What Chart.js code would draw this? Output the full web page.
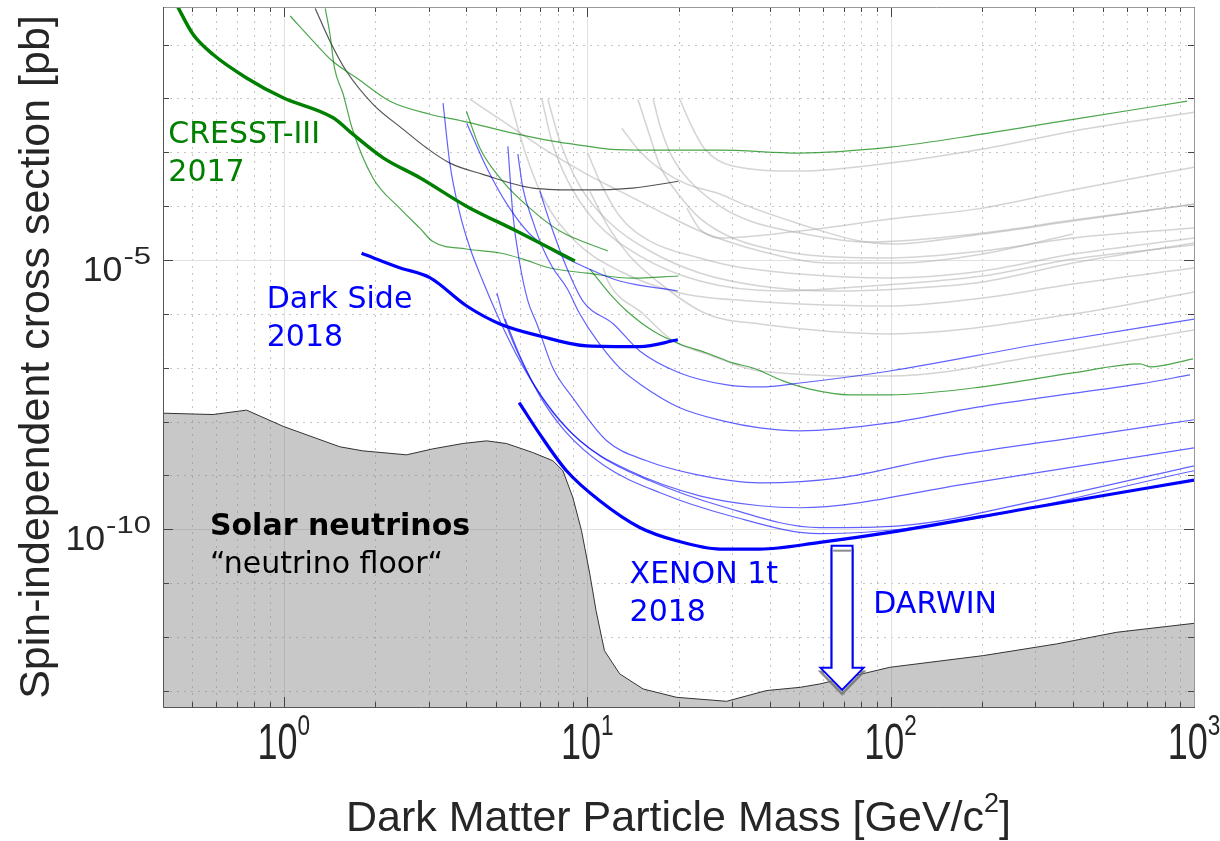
<!DOCTYPE html>
<html>
<head>
<meta charset="utf-8">
<script src="https://cdn.jsdelivr.net/npm/chart.js@4.4.1/dist/chart.umd.min.js"></script>
<style>
  html, body { margin: 0; padding: 0; background: #fff; }
  #wrap { width: 1220px; height: 841px; }
</style>
</head>
<body>
<div id="wrap"><canvas id="limits" width="1220" height="841"></canvas></div>
<script>
// WIMP mass [GeV/c^2] vs spin-independent cross section [pb]

const xRange = [0.4, 1000];
const yRange = [5e-14, 0.5];
const xMajor = [1, 10, 100, 1000];
const xMajorExp = ['0', '1', '2', '3'];
const yMajor = [1e-5, 1e-10];
const yMajorExp = ['-5', '-10'];

const neutrinoFloor = [[0.4,1.43e-8],[0.585,1.35e-8],[0.754,1.63e-8],[1.0,8.07e-9],[1.53,3.4e-9],[1.82,2.86e-9],[2.54,2.41e-9],
  [3.1,3.11e-9],[3.89,3.91e-9],[4.66,4.38e-9],[5.42,3.91e-9],[6.62,2.66e-9],[7.71,1.87e-9],[8.32,1.22e-9],[8.97,3.89e-10],
  [9.58,9.4e-11],[10.2,1.49e-11],[10.7,3.07e-12],[11.4,5.57e-13],[12.8,2.06e-13],[15.3,1.08e-13],[19.7,7.57e-14],
  [28.8,6.38e-14],[39.0,1.01e-13],[50.4,1.16e-13],[58.5,1.34e-13],[99.4,2.73e-13],[202,4.5e-13],[352,7.41e-13],
  [556,1.22e-12],[1000,1.79e-12]];

const cresst2017 = [[0.44,0.6],[0.503,0.154],[0.585,0.0655],[0.754,0.0241],[0.995,0.0103],[1.455,4.37e-3],[1.693,2.15e-3],
  [2.126,7.9e-4],[2.81,3.37e-4],[4.0,1.0e-4],[5.85,3.45e-5],[9.11,9.6e-6]];

const darkSide2018 = [[1.805,1.33e-5],[2.41,7.19e-6],[3.03,4.7e-6],[4.01,1.4e-6],[5.16,6.5e-7],[6.98,3.89e-7],
  [9.98,2.54e-7],[14.9,2.46e-7],[19.9,3.3e-7]];

const xenon1t2018 = [[5.97,2.25e-8],[6.98,5.83e-9],[8.55,1.22e-9],[11.0,3.38e-10],[14.9,1.08e-10],[19.7,6.12e-11],
  [27.4,4.29e-11],[37.1,4.29e-11],[58.5,5.69e-11],[99.4,8.73e-11],[295,2.54e-10],[1000,8.18e-10]];

// other cryogenic / low-mass results (green)
const greenA = [[1.05,0.34],[1.25,0.116],[1.45,0.049],[1.74,0.024],[2.24,8.9e-3],[3.03,5.1e-3],[3.89,3.8e-3],[5.69,2.27e-3],
  [7.71,1.61e-3],[10,1.3e-3],[11.7,1.15e-3],[16.5,1.1e-3],[27.4,1.1e-3],[50,9.7e-4],[100,1.25e-3],[200,2.18e-3],
  [400,4.1e-3],[950,8.9e-3]];
const greenB = [[1.37,0.47],[1.42,0.156],[1.47,0.0365],[1.57,0.012],[1.68,2.8e-3],[1.97,3.3e-4],[2.41,9.2e-5],[2.81,3.9e-5],
  [3.1,2.2e-5],[4.0,1.6e-5],[5.16,1.35e-5],[6.14,1.04e-5],[7.54,7.1e-6],[10,5.7e-6],[14.1,4.6e-6],[20,5.05e-6]];
const greenC = [[4.0,5.8e-3],[4.43,1.2e-3],[5.27,2.9e-4],[6.47,9.2e-5],[8.13,3.45e-5],[11.7,1.47e-5]];
const greenD = [[10.2,6.8e-6],[12.2,2.0e-6],[13.5,1.13e-6],[16.5,4.8e-7],[20.2,2.76e-7],[24.8,1.88e-7],[30.2,1.23e-7],
  [35.2,9.9e-8],[44.2,5.7e-8],[54.2,4.0e-8],[73.4,3.13e-8],[99.5,3.13e-8],[187,4.2e-8],[399,8.0e-8],[663,1.18e-7],
  [716,1.04e-7],[993,1.46e-7]];

const blackA = [[1.27,0.47],[1.42,0.116],[1.61,0.032],[1.97,7.8e-3],[2.47,2.7e-3],[2.96,1.2e-3],[3.53,6.3e-4],[4.53,3.9e-4],
  [6.62,2.17e-4],[9.68,2.0e-4],[14.1,2.17e-4],[20,2.9e-4]];

// liquid noble gas results (blue)
const blueA = [[4.01,3.48e-3],[4.67,5.1e-4],[5.44,1.09e-4],[6.47,3.04e-5],[7.71,1.47e-5],[9.98,7.1e-6],[12.8,4.07e-6],[19.9,2.66e-6]];
const blueB = [[6.98,1.91e-4],[7.71,3.45e-5],[8.57,7.1e-6],[9.68,1.73e-6],[12.2,6.5e-7],[14.9,2.05e-7],[20.2,8.0e-8],
  [28.9,4.8e-8],[37.1,4.4e-8],[50.2,5.2e-8],[99.5,8.7e-8],[311,2.76e-7],[1000,8.0e-7]];
const blueC = [[5.91,9.26e-4],[6.14,2.17e-4],[6.62,5.29e-5],[7.14,1.67e-5],[7.71,7.11e-6],[8.57,3.02e-6],[9.46,9.95e-7],
  [10.8,3.14e-7],[12.8,9.9e-8],[14.9,5.0e-8],[20.2,1.8e-8],[28,1.03e-8],[37.1,7.64e-9],[50.2,6.73e-9],[99.5,9.46e-9],
  [187,1.8e-8],[311,2.75e-8],[663,5.0e-8],[970,7.35e-8]];
const blueD = [[5.48,1.3e-3],[5.69,7.13e-5],[6.0,8.44e-6],[6.38,1.73e-6],[6.83,6.5e-7],[7.71,9.9e-8],[8.97,2.75e-8],
  [11.6,4.39e-9],[15.7,1.87e-9],[22.3,1.07e-9],[37.1,7.29e-10],[68.1,9.02e-10],[145,2.12e-9],[399,4.99e-9],[1000,1.08e-8]];
const blueE = [[3.35,8.2e-3],[3.53,6.04e-4],[3.81,7.13e-5],[4.11,1.67e-5],[4.53,4.07e-6],[5.16,7.38e-7],[6.0,1.34e-7],
  [7.25,2.42e-8],[9.46,4.39e-9],[13.8,1.22e-9],[23.5,4.18e-10],[37.1,2.73e-10],[50.2,2.51e-10],[178,6.98e-10],[1000,3.25e-9]];
const blueF = [[5.04,2.44e-6],[5.36,7.38e-7],[5.87,2.05e-7],[6.72,4.59e-8],[8.13,1.03e-8],[11.0,2.31e-9],[16.1,7.94e-10],
  [27.4,2.73e-10],[58.5,1.07e-10],[107,1.16e-10],[335,3.84e-10],[1000,1.51e-9]];
const blueG = [[5.36,8.04e-7],[6.0,1.66e-7],[6.98,3.0e-8],[8.44,6.73e-9],[11.4,1.51e-9],[17.4,4.75e-10],[29.5,1.78e-10],
  [58.5,8.26e-11],[157,1.32e-10],[1000,1.22e-9]];

// earlier results (light grey)
const greyCurves = [
  [[20.2,9.7e-3],[22.1,3.06e-3],[24.4,1.15e-3],[30.2,5.55e-4],[50.2,4.48e-4],[99.5,6.31e-4],[201,1.15e-3],[399,2.47e-3],[1000,5.57e-3]],
  [[21.3,9.2e-5],[23.5,3.76e-5],[27.4,2.56e-5],[50.2,3.45e-5],[99.5,5.77e-5],[201,9.2e-5],[381,1.91e-4],[1000,5.31e-4]],
  [[13.0,2.81e-3],[14.9,1.05e-3],[17.4,4.88e-4],[21.3,2.57e-4],[27.4,1.68e-4],[32.6,1.09e-4],[50.2,4.66e-5],[79.2,2.25e-5],
   [99.5,1.98e-5],[201,3.04e-5],[399,5.29e-5],[1000,1.09e-4]],
  [[16.5,9.7e-3],[17.4,3.06e-3],[19.0,8.5e-4],[21.8,2.92e-4],[27.4,1.0e-4],[34.4,5.29e-5],[50.2,3.17e-5],[83.5,2.16e-5],
   [201,3.17e-5],[399,5.52e-5],[1000,1.09e-4]],
  [[14.7,9.7e-3],[15.9,2.47e-3],[17.4,5.55e-4],[20.2,1.54e-4],[23.5,6.0e-5],[30.2,2.56e-5],[50.2,1.29e-5],[99.5,1.09e-5],
   [201,1.47e-5],[399,2.56e-5],[1000,3.92e-5]],
  [[10.05,9.7e-4],[11.0,2.92e-4],[12.8,6.5e-5],[16.1,2.25e-5],[23.5,1.09e-5],[30.2,7.75e-6],[50.2,5.5e-6],[99.5,4.64e-6],
   [201,6.25e-6],[399,1.29e-5],[1000,2.56e-5]],
  [[7.42,9.7e-3],[8.13,1.61e-3],[9.46,2.36e-4],[11.7,5.3e-5],[16.1,1.47e-5],[23.5,5.74e-6],[37.1,3.29e-6],[64.5,2.66e-6],
   [107,2.9e-6],[201,3.9e-6],[399,8.8e-6],[1000,2.07e-5]],
  [[7.09,9.7e-3],[7.65,1.61e-3],[8.64,2.92e-4],[10.6,5.3e-5],[14.9,1.19e-5],[23.5,4.07e-6],[43.2,2.66e-6],[85.5,3.29e-6],
   [201,5.05e-6],[399,1.04e-5],[1000,1.9e-5]],
  [[5.56,9.7e-3],[6.23,1.05e-3],[7.25,1.24e-4],[9.11,2.25e-5],[12.8,6.25e-6],[20.2,2.44e-6],[34.4,1.73e-6],[50.2,1.53e-6],
   [99.5,1.4e-6],[201,1.97e-6],[399,3.59e-6],[1000,7.11e-6]],
  [[4.11,9.7e-3],[5.27,3.8e-3],[7.14,1.2e-3],[10,3.9e-4],[12.8,1.9e-4],[16.5,9.2e-5],[23.5,3.45e-5],[37.1,1.47e-5],
   [63.1,8.8e-6],[107,8.8e-6],[201,1.29e-5],[399,3.04e-5]],
  [[10.2,1.91e-4],[11.7,4.27e-5],[13.8,1.19e-5],[17,4.07e-6],[24.8,9.95e-7],[37.1,6.5e-7],[99.5,4.24e-7],[399,9.95e-7],[1000,2.55e-6]],
  [[11.3,7.1e-6],[11.7,4.07e-6],[15.3,9.95e-7],[19.2,3.14e-7],[24.8,1.8e-7],[37.1,8.7e-8],[99.5,7.0e-8],[311,1.66e-7],[1000,5.0e-7]]
];

// DARWIN projected reach: arrow at this mass, from/to cross sections
const darwinArrow = { mass: 69.2, from: 4.95e-11, to: 1.04e-13 };

const notes = [
  { lines: ['CRESST-III', '2017'], color: '#008000', mass: 0.4164, xs: 1.47e-3 },
  { lines: ['Dark Side', '2018'], color: '#0000ff', mass: 0.879, xs: 1.3e-6 },
  { lines: ['Solar neutrinos', '\u201Cneutrino floor\u201C'], color: '#000000', mass: 0.571, xs: 7.8e-11, boldFirst: true },
  { lines: ['XENON 1t', '2018'], color: '#0000ff', mass: 13.8, xs: 9.9e-12 },
  { lines: ['DARWIN'], color: '#0000ff', mass: 87.7, xs: 2.75e-12 }
];

const pts = arr => arr.map(([x, y]) => ({ x, y }));
const curve = (arr, color, width, order) => ({
  data: pts(arr), showLine: true, borderColor: color, borderWidth: width,
  pointRadius: 0, fill: false, order, clip: 0, cubicInterpolationMode: 'monotone'
});

const thinGreen = 'rgba(0,128,0,0.7)';
const thinBlue = 'rgba(0,0,255,0.62)';
const grey = 'rgba(170,170,170,0.5)';

const datasets = [
  {
    data: pts(neutrinoFloor), showLine: true, borderColor: '#333333', borderWidth: 1,
    backgroundColor: 'rgba(128,128,128,0.43)', fill: 'start', pointRadius: 0, order: 90, clip: 0, tension: 0
  },
  ...greyCurves.map(c => curve(c, grey, 1.5, 60)),
  curve(greenA, thinGreen, 1.2, 40),
  curve(greenB, thinGreen, 1.2, 40),
  curve(greenC, thinGreen, 1.2, 40),
  curve(greenD, thinGreen, 1.2, 40),
  curve(blackA, 'rgba(40,40,40,0.8)', 1.2, 40),
  curve(blueA, thinBlue, 1.2, 30),
  curve(blueB, thinBlue, 1.2, 30),
  curve(blueC, thinBlue, 1.2, 30),
  curve(blueD, thinBlue, 1.2, 30),
  curve(blueE, thinBlue, 1.2, 30),
  curve(blueF, thinBlue, 1.2, 30),
  curve(blueG, thinBlue, 1.2, 30),
  curve(cresst2017, '#008000', 3.5, 10),
  curve(darkSide2018, '#0000ff', 3.2, 10),
  curve(xenon1t2018, '#0000ff', 3.2, 10)
];

// tick positions: every 1..9 x decade on x, every decade on y
const xTicks = [];
for (let e = -1; e <= 3; e++) for (let k = 1; k <= 9; k++) {
  const v = k * Math.pow(10, e);
  if (v >= xRange[0] * 0.999 && v <= xRange[1] * 1.001) xTicks.push(v);
}
const yTicks = [];
for (let e = -13; e <= -1; e++) yTicks.push(Math.pow(10, e));
const isMajor = (v, list) => list.some(m => Math.abs(Math.log10(v) - Math.log10(m)) < 1e-6);

const AXIS_FONT = '"Liberation Sans", Arial, Helvetica, sans-serif';
const NOTE_FONT = '"DejaVu Sans", Verdana, sans-serif';

// "10" with a raised exponent; sx/ssx squeeze or widen base and exponent
function powerLabel(ctx, exp, x, y, o) {
  ctx.font = o.size + 'px ' + AXIS_FONT;
  const wb = ctx.measureText('10').width * o.sx;
  ctx.font = o.supSize + 'px ' + AXIS_FONT;
  const ws = ctx.measureText(exp).width * o.ssx;
  const left = o.align === 'center' ? x - (wb + ws) / 2 : x - wb - ws;
  ctx.textAlign = 'left';
  ctx.textBaseline = 'alphabetic';
  ctx.save();
  ctx.translate(left, y);
  ctx.scale(o.sx, 1);
  ctx.font = o.size + 'px ' + AXIS_FONT;
  ctx.fillText('10', 0, 0);
  ctx.restore();
  ctx.save();
  ctx.translate(left + wb + (o.gap || 0), y - o.rise);
  ctx.scale(o.ssx, 1);
  ctx.font = o.supSize + 'px ' + AXIS_FONT;
  ctx.fillText(exp, 0, 0);
  ctx.restore();
}

const axesPlugin = {
  id: 'matlabAxes',
  beforeDatasetsDraw(chart) {
    const { ctx, chartArea: a, scales: { x, y } } = chart;
    ctx.save();
    ctx.lineWidth = 1;
    // minor grid, dotted
    ctx.strokeStyle = '#c6c6c6';
    ctx.setLineDash([2, 5]);
    ctx.beginPath();
    xTicks.filter(v => !isMajor(v, xMajor)).forEach(v => {
      const px = Math.round(x.getPixelForValue(v)) + 0.5;
      ctx.moveTo(px, a.top); ctx.lineTo(px, a.bottom);
    });
    yTicks.filter(v => !isMajor(v, yMajor)).forEach(v => {
      const py = Math.round(y.getPixelForValue(v)) + 0.5;
      ctx.moveTo(a.left, py); ctx.lineTo(a.right, py);
    });
    ctx.stroke();
    // major grid, solid
    ctx.setLineDash([]);
    ctx.strokeStyle = '#e0e0e0';
    ctx.beginPath();
    xMajor.forEach(v => {
      const px = Math.round(x.getPixelForValue(v)) + 0.5;
      ctx.moveTo(px, a.top); ctx.lineTo(px, a.bottom);
    });
    yMajor.forEach(v => {
      const py = Math.round(y.getPixelForValue(v)) + 0.5;
      ctx.moveTo(a.left, py); ctx.lineTo(a.right, py);
    });
    ctx.stroke();
    ctx.restore();
  },
  afterDatasetsDraw(chart) {
    const { ctx, chartArea: a, scales: { x, y } } = chart;
    ctx.save();

    // DARWIN arrow with drop shadow
    const ax = x.getPixelForValue(darwinArrow.mass);
    const aTop = y.getPixelForValue(darwinArrow.from);
    const aTip = y.getPixelForValue(darwinArrow.to);
    const shaft = 10.5, head = 21.5, headLen = 22;
    const arrowPath = (dx, dy) => {
      ctx.beginPath();
      ctx.moveTo(ax - shaft + dx, aTop + dy);
      ctx.lineTo(ax + shaft + dx, aTop + dy);
      ctx.lineTo(ax + shaft + dx, aTip - headLen + dy);
      ctx.lineTo(ax + head + dx, aTip - headLen + dy);
      ctx.lineTo(ax + dx, aTip + dy);
      ctx.lineTo(ax - head + dx, aTip - headLen + dy);
      ctx.lineTo(ax - shaft + dx, aTip - headLen + dy);
      ctx.closePath();
    };
    arrowPath(0, 4);
    ctx.strokeStyle = 'rgba(110,110,110,0.8)';
    ctx.lineWidth = 2.5;
    ctx.stroke();
    arrowPath(0, 0);
    ctx.fillStyle = '#ffffff';
    ctx.fill();
    ctx.strokeStyle = '#0000ff';
    ctx.lineWidth = 2;
    ctx.stroke();
    ctx.strokeStyle = 'rgba(110,110,110,0.8)';
    ctx.lineWidth = 2;
    ctx.beginPath();
    ctx.moveTo(ax - shaft + 1.5, aTop + 5); ctx.lineTo(ax + shaft - 1.5, aTop + 5);
    ctx.stroke();

    // inward tick marks on all four sides
    ctx.lineWidth = 1;
    ctx.strokeStyle = '#444444';
    ctx.beginPath();
    xTicks.forEach(v => {
      const px = Math.round(x.getPixelForValue(v)) + 0.5;
      const len = isMajor(v, xMajor) ? 10 : 5;
      ctx.moveTo(px, a.bottom); ctx.lineTo(px, a.bottom - len);
      ctx.moveTo(px, a.top); ctx.lineTo(px, a.top + len);
    });
    yTicks.forEach(v => {
      const py = Math.round(y.getPixelForValue(v)) + 0.5;
      const len = isMajor(v, yMajor) ? 10 : 6;
      ctx.moveTo(a.left, py); ctx.lineTo(a.left + len, py);
      ctx.moveTo(a.right, py); ctx.lineTo(a.right - len, py);
    });
    ctx.stroke();

    // box
    ctx.strokeStyle = '#999999';
    ctx.beginPath();
    ctx.moveTo(a.left, a.top + 0.5); ctx.lineTo(a.right + 0.5, a.top + 0.5); ctx.lineTo(a.right + 0.5, a.bottom);
    ctx.stroke();
    ctx.strokeStyle = '#555555';
    ctx.beginPath();
    ctx.moveTo(a.left + 0.5, a.top); ctx.lineTo(a.left + 0.5, a.bottom + 0.5); ctx.lineTo(a.right + 1, a.bottom + 0.5);
    ctx.stroke();

    // tick labels
    ctx.fillStyle = '#262626';
    xMajor.forEach((v, i) => powerLabel(ctx, xMajorExp[i], x.getPixelForValue(v), a.bottom + 52,
      { size: 50, supSize: 30, rise: 24, sx: 0.72, ssx: 0.75, align: 'center' }));
    yMajor.forEach((v, i) => powerLabel(ctx, yMajorExp[i], a.left - 13, y.getPixelForValue(v) + 21,
      { size: 35, supSize: 23, rise: 17, sx: 1.02, ssx: 1.35, gap: 1, align: 'right' }));

    // axis titles
    const xt = 'Dark Matter Particle Mass [GeV/c';
    ctx.font = '43px ' + AXIS_FONT;
    const w1 = ctx.measureText(xt).width;
    const w3 = ctx.measureText(']').width;
    ctx.font = '27px ' + AXIS_FONT;
    const w2 = ctx.measureText('2').width;
    const tx = (a.left + a.right) / 2 - (w1 + w2 + w3) / 2;
    const tb = 831;
    ctx.textAlign = 'left';
    ctx.font = '43px ' + AXIS_FONT;
    ctx.fillText(xt, tx, tb);
    ctx.font = '27px ' + AXIS_FONT;
    ctx.fillText('2', tx + w1, tb - 19);
    ctx.font = '43px ' + AXIS_FONT;
    ctx.fillText(']', tx + w1 + w2, tb);

    ctx.save();
    ctx.translate(48.5, 357);
    ctx.rotate(-Math.PI / 2);
    ctx.textAlign = 'center';
    ctx.font = '43px ' + AXIS_FONT;
    ctx.fillText('Spin-independent cross section [pb]', 0, 0);
    ctx.restore();

    // experiment labels
    notes.forEach(n => {
      const nx = x.getPixelForValue(n.mass);
      const ny = y.getPixelForValue(n.xs);
      ctx.fillStyle = n.color;
      ctx.textAlign = 'left';
      n.lines.forEach((line, i) => {
        ctx.font = (n.boldFirst && i === 0 ? 'bold ' : '') + '30px ' + NOTE_FONT;
        ctx.fillText(line, nx, ny + i * 38);
      });
    });
    ctx.restore();
  }
};

new Chart(document.getElementById('limits'), {
  type: 'scatter',
  data: { datasets },
  options: {
    responsive: false,
    animation: false,
    devicePixelRatio: 1,
    layout: { padding: { left: 163, top: 7, right: 26, bottom: 134 } },
    plugins: { legend: { display: false }, tooltip: { enabled: false } },
    scales: {
      x: { type: 'logarithmic', min: xRange[0], max: xRange[1], display: false },
      y: { type: 'logarithmic', min: yRange[0], max: yRange[1], display: false }
    }
  },
  plugins: [axesPlugin]
});
</script>
</body>
</html>
